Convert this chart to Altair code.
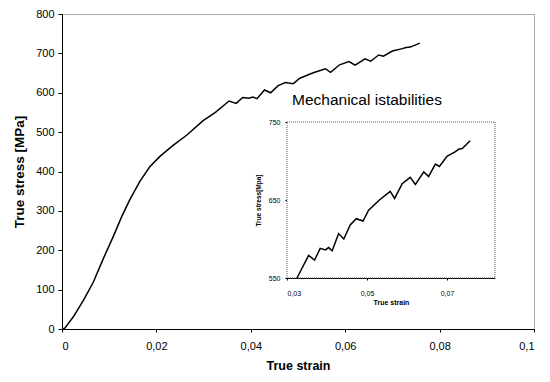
import altair as alt
import pandas as pd

# ---- data ----
strain = [0, 0.0006, 0.0024, 0.0045, 0.0066, 0.0088, 0.0109, 0.0126, 0.0144, 0.0165,
          0.0186, 0.0208, 0.0236, 0.0264, 0.0299, 0.0325, 0.0354, 0.0369, 0.0383, 0.0396,
          0.0404, 0.0413, 0.0429, 0.0442, 0.0458, 0.0473, 0.0490, 0.0504, 0.0531, 0.0558,
          0.0569, 0.0588, 0.0608, 0.0621, 0.0642, 0.0654, 0.0671, 0.0681, 0.0700, 0.0721,
          0.0729, 0.0738, 0.0758]
stress = [0, 2, 31, 72, 118, 180, 236, 284, 329, 375,
          412, 439, 467, 492, 529, 550, 579, 573, 588, 586,
          589, 585, 607, 600, 618, 626, 623, 637, 650, 661,
          652, 671, 679, 670, 686, 680, 696, 693, 706, 712,
          715, 716, 726]

main_x_ticks = [0, 0.02, 0.04, 0.06, 0.08, 0.1]
main_y_ticks = [0, 100, 200, 300, 400, 500, 600, 700, 800]
inset_x_ticks = [0.03, 0.05, 0.07]
inset_y_ticks = [550, 650, 750]
inset_x_domain = [0.03, 0.082]
inset_y_domain = [550, 750]
inset_title = "Mechanical istabilities"
inset_title_pos = [0.03125, 772]

df = pd.DataFrame({"strain": strain, "stress": stress})
df_inset = df[df["strain"] >= inset_x_domain[0] + 0.0025]
df_frame = pd.DataFrame({"strain": [inset_x_domain[0]], "strain2": [inset_x_domain[1]],
                         "stress": [inset_y_domain[0]], "stress2": [inset_y_domain[1]]})
df_title = pd.DataFrame({"strain": [inset_title_pos[0]], "stress": [inset_title_pos[1]],
                         "label": [inset_title]})

FONT = "Liberation Sans"
label_expr = "replace(format(datum.value, '.2~f'), '.', ',')"

W, H = 472, 315
# inset plot position inside the main view (pixels)
IX0, IX1 = 225, 433
IY0, IY1 = 264, 108

main = alt.Chart(df).mark_line(color="black", strokeWidth=1.5).encode(
    x=alt.X("strain:Q",
            scale=alt.Scale(domain=[0, 0.1], nice=False, zero=False),
            axis=alt.Axis(values=main_x_ticks, labelExpr=label_expr, title="True strain",
                          orient="bottom", grid=False, ticks=True, tickSize=3,
                          labelPadding=8, titlePadding=8, labelFontSize=11,
                          titleFontSize=12.5, titleFontWeight="bold",
                          domainColor="black", tickColor="black",
                          labelColor="black", titleColor="black",
                          labelFont=FONT, titleFont=FONT)),
    y=alt.Y("stress:Q",
            scale=alt.Scale(domain=[0, 800], nice=False),
            axis=alt.Axis(values=main_y_ticks, title="True stress [MPa]", orient="left",
                          grid=False, tickSize=4, labelPadding=4, titlePadding=9,
                          labelFontSize=11, titleFontSize=13.5, titleFontWeight="bold",
                          domainColor="black", tickColor="black",
                          labelColor="black", titleColor="black",
                          labelFont=FONT, titleFont=FONT)),
    order="strain:Q",
)

def inset_x(field):
    return alt.X(field, type="quantitative",
                 scale=alt.Scale(domain=inset_x_domain, range=[IX0, IX1], nice=False, zero=False),
                 axis=alt.Axis(values=inset_x_ticks, labelExpr=label_expr, title="True strain",
                               orient="bottom", offset=-(H - IY0), grid=False, tickSize=2,
                               labelPadding=9, titlePadding=2, labelFontSize=7,
                               titleFontSize=7, titleFontWeight="bold",
                               domainColor="black", tickColor="black",
                               labelColor="black", titleColor="black",
                               labelFont=FONT, titleFont=FONT))

def inset_y(field):
    return alt.Y(field, type="quantitative",
                 scale=alt.Scale(domain=inset_y_domain, range=[IY0, IY1], nice=False, zero=False),
                 axis=alt.Axis(values=inset_y_ticks, title="True stress[Mpa]",
                               orient="left", offset=-IX0, grid=False, tickSize=2,
                               labelPadding=5, titlePadding=7, labelFontSize=7,
                               titleFontSize=6.5, titleFontWeight="bold",
                               domainColor="black", tickColor="black",
                               labelColor="black", titleColor="black",
                               labelFont=FONT, titleFont=FONT))

frame = alt.Chart(df_frame).mark_rect(fill="white", stroke="#555", strokeDash=[1, 1],
                                      strokeWidth=1).encode(
    x=inset_x("strain"), x2="strain2", y=inset_y("stress"), y2="stress2")

inset_line = alt.Chart(df_inset).mark_line(color="black", strokeWidth=1.5).encode(
    x=inset_x("strain"), y=inset_y("stress"), order="strain:Q")

title = alt.Chart(df_title).mark_text(align="left", baseline="alphabetic", fontSize=15.5,
                                      font=FONT, color="black").encode(
    x=inset_x("strain"), y=inset_y("stress"), text="label:N")

inset = alt.layer(frame, inset_line, title)

chart = alt.layer(main, inset).resolve_scale(x="independent", y="independent").properties(
    width=W, height=H,
    autosize=alt.AutoSizeParams(type="none"),
    padding={"left": 54, "top": 6, "right": 8, "bottom": 43},
    background="white",
).configure_view(stroke="#555", strokeDash=[1, 1], strokeWidth=1)

chart.save("out.html", embed_options={"renderer": "svg", "actions": False})
